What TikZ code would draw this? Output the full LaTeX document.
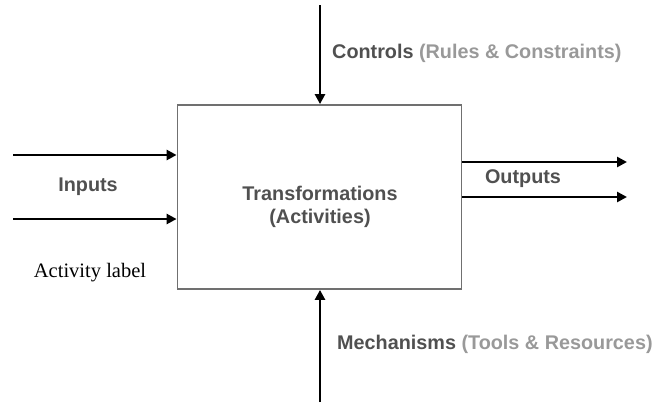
\documentclass[tikz,border=0pt]{standalone}
\usepackage{fontspec}
\setmainfont{Liberation Serif}
\newfontfamily\labelsans{Liberation Sans}
\usetikzlibrary{arrows.meta}
\definecolor{darklabel}{HTML}{505050}
\definecolor{lightlabel}{HTML}{999999}
\definecolor{boxline}{HTML}{707070}
\tikzset{
  flow/.style={line width=2.9pt, -{Triangle[length=10pt,width=10pt]}},
  tag/.style={font=\labelsans\bfseries\fontsize{19.8}{23.5}\selectfont, text=darklabel, inner sep=0pt},
  activitybox/.style={draw=boxline, line width=1.8pt, minimum width=284pt, minimum height=184pt, inner sep=0pt},
}
\begin{document}
\begin{tikzpicture}[x=1pt,y=-1pt]
\useasboundingbox (0,0) rectangle (655,402);
% central activity
\node[activitybox] (act) at (319.5,197) {};
\node[tag, align=center] (actlbl) at (320,207) {Transformations\\(Activities)};
% controls from above
\coordinate (ctop) at (320,5);
\draw[flow] (ctop) -- (act.north -| ctop);
\node[tag, anchor=west] (ctl) at (332,53) {Controls \textcolor{lightlabel}{(Rules \& Constraints)}};
% mechanisms from below
\coordinate (mbot) at (320,402);
\draw[flow] (mbot) -- (act.south -| mbot);
\node[tag, anchor=west] (mech) at (337,344) {Mechanisms \textcolor{lightlabel}{(Tools \& Resources)}};
% inputs
\coordinate (in1) at (13,155);
\coordinate (in2) at (13,219);
\draw[flow] (in1) -- (act.west |- in1);
\draw[flow] (in2) -- (act.west |- in2);
\node[tag] (inl) at (88,187) {Inputs};
% outputs
\coordinate (out1) at (627,162);
\coordinate (out2) at (627,197);
\draw[flow] (act.east |- out1) -- (out1);
\draw[flow] (act.east |- out2) -- (out2);
\node[tag] (outl) at (523,179) {Outputs};
% caption
\node[font=\fontsize{20.5}{24}\selectfont, inner sep=0pt] (cap) at (90,273) {Activity label};
\end{tikzpicture}
\end{document}
